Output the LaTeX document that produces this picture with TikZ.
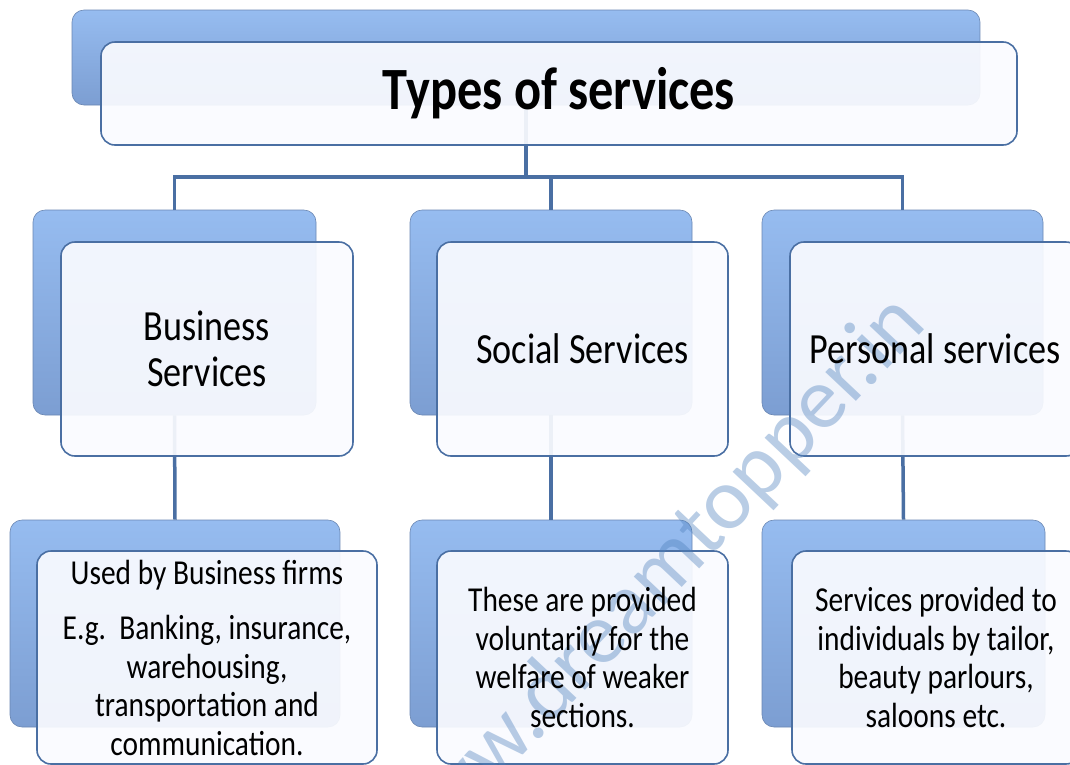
\documentclass[tikz,border=0pt]{standalone}
\usepackage{fontspec}
\setmainfont{Carlito}[FakeStretch=0.84]
\newfontfamily\wmfont{Carlito}
\definecolor{lineblue}{RGB}{74,111,163}
\definecolor{backtop}{RGB}{150,188,240}
\definecolor{backbot}{RGB}{124,158,210}
\definecolor{wmblue}{RGB}{79,129,189}
\definecolor{frontfill}{RGB}{250,251,255}
\begin{document}
\begin{tikzpicture}[x=1pt,y=-1pt,
  back/.style={shape=rectangle, inner sep=0pt, rounded corners=12pt,
    top color=backtop, bottom color=backbot, draw=backbot!85!black, line width=0.6pt},
  front/.style={shape=rectangle, inner sep=0pt, rounded corners=14pt,
    fill=frontfill, fill opacity=0.92, draw=lineblue, draw opacity=1, line width=1.6pt},
  conn/.style={draw=lineblue, line width=3.5pt},
  titletext/.style={font=\fontsize{60}{66}\selectfont\bfseries, inner sep=0pt},
  midtext/.style={font=\fontsize{43}{46}\selectfont, align=center, inner sep=0pt},
  lowtext/.style={font=\fontsize{35}{38.5}\selectfont, align=center, inner sep=0pt},
  wm/.style={font=\wmfont\fontsize{88}{90}\selectfont, text=wmblue, text opacity=0.4, inner sep=0pt}
]
\useasboundingbox (0,0) rectangle (1070,764);
\clip (0,0) rectangle (1070,764);

% back boxes
\node[back, minimum width=908pt, minimum height=95pt] (tb) at (526,57.5) {};
\node[back, minimum width=283pt, minimum height=205pt] (b2) at (174.5,312.5) {};
\node[back, minimum width=282pt, minimum height=205pt] (s2) at (551,312.5) {};
\node[back, minimum width=281pt, minimum height=205pt] (p2) at (902.5,312.5) {};
\node[back, minimum width=330pt, minimum height=207pt] (b3) at (175,623.5) {};
\node[back, minimum width=282pt, minimum height=207pt] (s3) at (551,623.5) {};
\node[back, minimum width=283pt, minimum height=207pt] (p3) at (903.5,623.5) {};

% connectors
\coordinate (hub) at (526,177);
\draw[conn] (tb.south) -- (hub);
\draw[conn] (b2.north) |- (hub) -| (p2.north);
\draw[conn] (s2.north) -- (s2.north |- hub);
\draw[conn] (b2.south) -- (b3.north);
\draw[conn] (s2.south) -- (s3.north);
\draw[conn] (p2.south) -- (p3.north);

% front boxes
\node[front, minimum width=916pt, minimum height=103pt] (tf) at (559,93.5) {};
\node[front, minimum width=292pt, minimum height=214pt] (b2f) at (207,349) {};
\node[front, minimum width=291pt, minimum height=214pt] (s2f) at (582.5,349) {};
\node[front, minimum width=290pt, minimum height=214pt] (p2f) at (935,349) {};
\node[front, minimum width=340pt, minimum height=213pt] (b3f) at (207,657.5) {};
\node[front, minimum width=291pt, minimum height=213pt] (s3f) at (582.5,657.5) {};
\node[front, minimum width=288pt, minimum height=213pt] (p3f) at (936,657.5) {};

% watermark
\node[wm, anchor=base west, rotate=46.7] (wmark) at (408,878) {www.dreamtopper.in};

% texts
\node[titletext] (tt) at (tf.center) {Types of services};
\node[midtext] (b2t) at (b2f.center) {Business\\Services};
\node[midtext] (s2t) at (s2f.center) {Social Services};
\node[midtext] (p2t) at (p2f.center) {Personal services};
\node[lowtext] (b3t) at (b3f.center) {Used by Business firms\\[17pt]E.g.\ \ Banking, insurance,\\warehousing,\\transportation and\\communication.};
\node[lowtext] (s3t) at (s3f.center) {These are provided\\voluntarily for the\\welfare of weaker\\sections.};
\node[lowtext] (p3t) at (p3f.center) {Services provided to\\individuals by tailor,\\beauty parlours,\\saloons etc.};
\end{tikzpicture}
\end{document}
